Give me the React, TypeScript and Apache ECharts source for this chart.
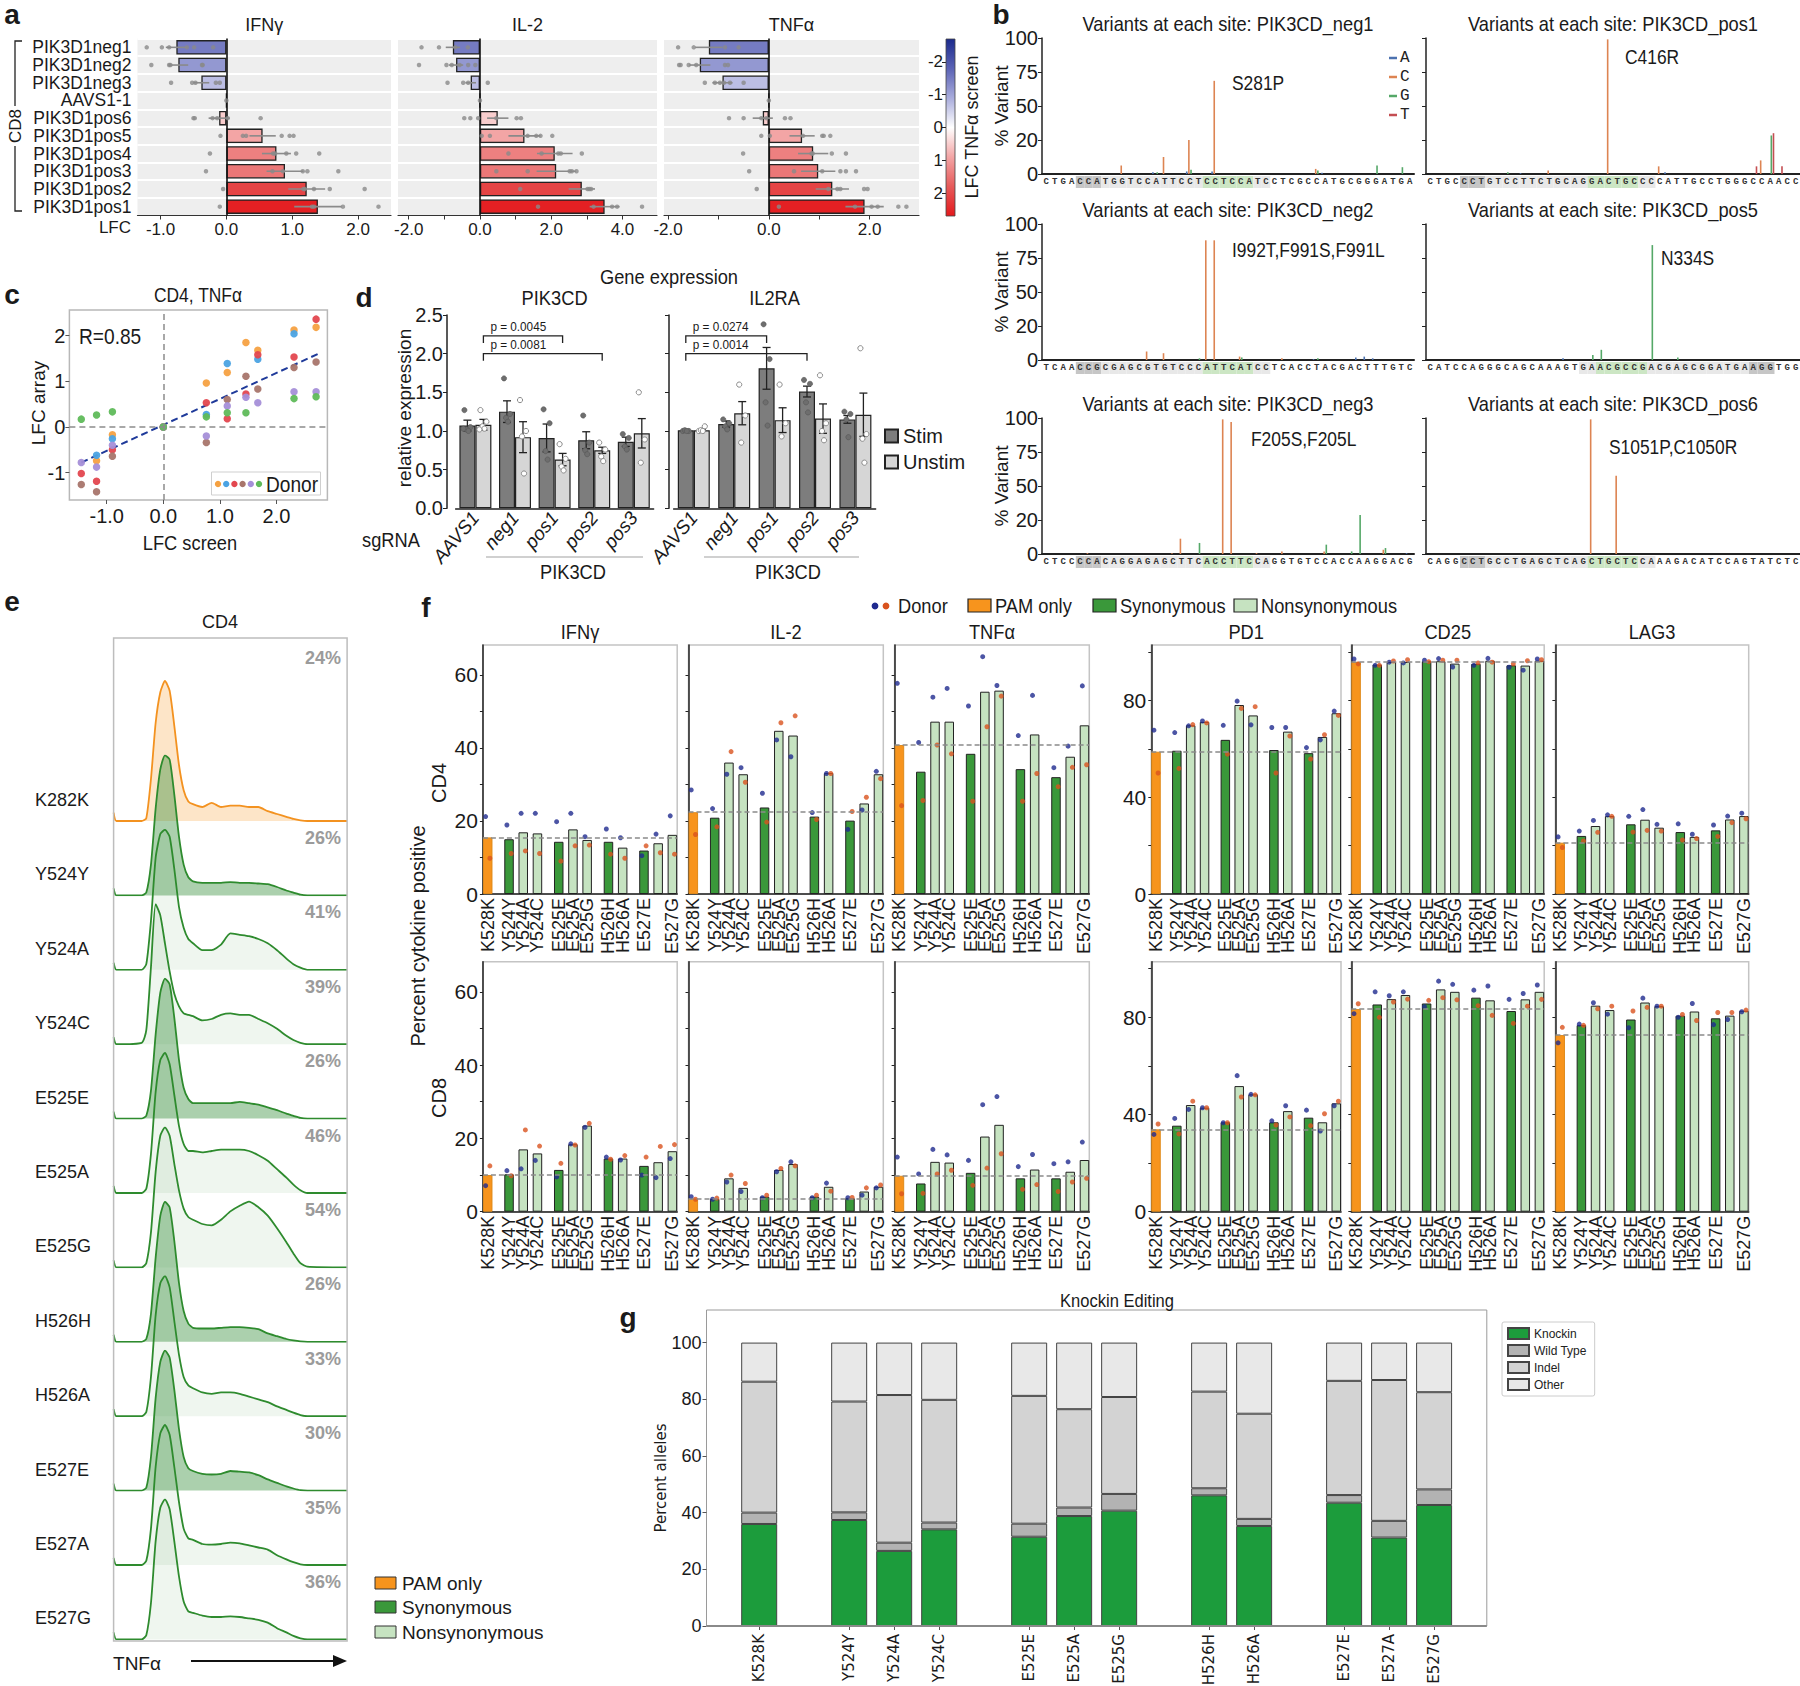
import React, { useEffect, useRef } from "react";
import * as echarts from "echarts";

const SANS = "'Liberation Sans', Arial, Helvetica, sans-serif";
const NARROW = "'Liberation Sans Narrow', 'Liberation Sans', Arial, sans-serif";
const MONO = "'Liberation Mono', 'DejaVu Sans Mono', monospace";
const DEJAVU = "'DejaVu Sans', Verdana, sans-serif";
const INK = "#1a1a1a";

/* ---------------- panel a ---------------- */
const aGuides = ["PIK3D1neg1", "PIK3D1neg2", "PIK3D1neg3", "AAVS1-1", "PIK3D1pos6", "PIK3D1pos5", "PIK3D1pos4", "PIK3D1pos3", "PIK3D1pos2", "PIK3D1pos1"];
const aScreenLFC = [-1.5, -1.15, -0.7, 0, 0.5, 0.9, 1.35, 1.45, 2.1, 2.6];
const aIFNgMean = [-0.76, -0.73, -0.38, 0, -0.11, 0.55, 0.76, 0.89, 1.22, 1.39];
const aIFNgErr = [0.16, 0.15, 0.12, 0, 0.16, 0.2, 0.22, 0.28, 0.28, 0.36];
const aIFNgPts = [
  [-1.21, -0.98, -0.87, -0.6, -0.49, -0.2], [-1.14, -0.87, -0.85, -0.37, -0.36], [-0.84, -0.52, -0.47, -0.16, -0.1], [0],
  [-0.5, -0.48, -0.21, -0.14, 0.02, 0.52], [-0.09, 0.25, 0.3, 0.84, 0.96, 1.02], [-0.25, 0.71, 0.74, 0.91, 1.06, 1.41],
  [-0.31, 0.7, 0.86, 1.16, 1.23, 1.7], [-0.05, 1.17, 1.19, 1.33, 1.57, 2.1], [-0.1, 1.3, 1.33, 1.77, 2.31],
];
const aIL2Mean = [-0.76, -0.67, -0.26, 0, 0.5, 1.25, 2.1, 2.14, 2.86, 3.5];
const aIL2Err = [0.2, 0.2, 0.15, 0, 0.3, 0.45, 0.5, 0.55, 0.37, 0.42];
const aIL2Pts = [
  [-1.64, -1.15, -0.69, -0.34], [-1.71, -0.94, -0.79, -0.57, -0.33, -0.13], [-0.91, -0.47, -0.33, 0.22], [0],
  [-0.44, -0.27, -0.05, 0.46, 1.03, 1.15], [0.05, 0.28, 1.34, 1.58, 1.7, 2.03], [0.8, 1.73, 2.2, 2.27, 2.86],
  [0.46, 1.34, 2.52, 2.58, 2.71], [1.13, 3.02, 3.07, 3.12], [1.63, 3.19, 3.71, 3.85, 4.55],
];
const aTNFaMean = [-1.19, -1.37, -0.92, 0, -0.12, 0.66, 0.88, 0.98, 1.26, 1.9];
const aTNFaErr = [0.27, 0.21, 0.2, 0, 0.2, 0.25, 0.3, 0.34, 0.33, 0.38];
const aTNFaPts = [
  [-1.8, -1.49, -0.87, -0.6], [-1.78, -1.75, -1.59, -1.44, -0.87, -0.81], [-1.27, -1.07, -0.97, -0.89, -0.77, -0.5], [0],
  [-0.79, -0.5, -0.15, -0.05, 0.32, 0.43], [-0.15, 0.02, 0.68, 1.06, 1.09, 1.22], [-0.51, 0.85, 0.87, 1.25, 1.53],
  [-0.39, 0.5, 1.06, 1.42, 1.53, 1.73], [-0.24, 1.18, 1.36, 1.42, 1.89, 1.96], [0.2, 1.71, 2.04, 2.16, 2.57, 2.73],
];
const aIFNgTickLabels = [-1, 0, 1, 2];
const aIL2TickLabels = [-2, 0, 2, 4];
const aTNFaTickLabels = [-2, 0, 2];
const aIFNgTickMarks = [-1, 0, 1, 2];
const aIL2TickMarks = [-2, -1, 0, 1, 2, 3, 4];
const aTNFaTickMarks = [-2, -1, 0, 1, 2];
const aCbStops = [-2.7, -1.8, -0.9, 0, 0.9, 1.8, 2.7];
const aCbColors = ["#1b2a8c", "#5b63b5", "#a9acdc", "#ffffff", "#f3a5a5", "#e65a5a", "#e4191c"];
const aCbTicks = [-2, -1, 0, 1, 2];

/* ---------------- panel b ---------------- */
const bTickLabels = ["0", "20", "50", "75", "100"];
const bTickValues = [0, 20, 50, 75, 100];
const bBases = ["A", "C", "G", "T"];
const bBaseColors = ["#4c72b0", "#dd8452", "#55a868", "#c44e52"];
const bNeg1Seq = "CTGACCATGGTCCATTCCTCCTCCATCCTCGCCATGCGGGATGA";
const bPos1Seq = "CTGCCCTGTCCTTCTGCAGGACTGCCCCATTGCCTGGGCCAACC";
const bNeg2Seq = "TCAACCGCGAGCGTGTCCCATTCATCCTCACCTACGACTTTGTC";
const bPos5Seq = "CATCCAGGGCAGCAAAGTGAACGCCGACGAGCGGATGAAGGTGG";
const bNeg3Seq = "CTCCCCACAGGAGAGCTTCACCTTCCAGGTGTCCACCAAGGACG";
const bPos6Seq = "CAGGCCTGCCTGAGCTCAGCTGCTCCAAAGACATCCAGTATCTC";
const bNeg1Spikes = [[9, "C", 5], [13, "A", 1], [13, "G", 1], [14, "C", 10], [17, "A", 1.5], [17, "C", 20], [17, "G", 2.5], [20, "A", 1.5], [20, "C", 68.5], [32, "C", 3], [32, "G", 2], [33, "A", 0.8], [39, "G", 5], [42, "G", 4]];
const bPos1Spikes = [[9, "G", 1], [11, "A", 0.5], [14, "C", 2], [21, "C", 99], [27, "C", 4.5], [28, "A", 1], [38, "T", 4.5], [39, "C", 8], [40, "T", 26], [40, "G", 24], [41, "T", 4.5]];
const bNeg2Spikes = [[12, "C", 5], [14, "C", 4], [18, "G", 1], [19, "C", 88], [20, "C", 88], [23, "C", 2], [23, "G", 1.5], [28, "C", 1], [32, "A", 0.5], [32, "G", 1], [37, "A", 1.5], [38, "A", 2], [39, "A", 1]];
const bPos5Spikes = [[16, "A", 1], [19, "G", 3], [20, "G", 6], [26, "G", 84.5], [29, "G", 1.5]];
const bNeg3Spikes = [[5, "C", 0.5], [15, "C", 0.5], [16, "C", 9], [18, "G", 6.5], [21, "C", 99], [22, "C", 97], [25, "C", 0.5], [28, "C", 1.5], [33, "C", 1.5], [33, "G", 5.5], [36, "G", 1.5], [37, "G", 24.5], [40, "C", 2.5], [40, "G", 3.5], [43, "A", 0.5]];
const bPos6Spikes = [[19, "C", 99], [22, "C", 57.5]];
const bPanels = [
  { site: "PIK3CD_neg1", seq: bNeg1Seq, pam: [4, 6], guide: [7, 26], seed: [19, 24], note: "S281P", spikes: bNeg1Spikes, nx: 190, ny: 45 },
  { site: "PIK3CD_pos1", seq: bPos1Seq, pam: [4, 6], guide: [7, 26], seed: [19, 24], note: "C416R", spikes: bPos1Spikes, nx: 199, ny: 19 },
  { site: "PIK3CD_neg2", seq: bNeg2Seq, pam: [4, 6], guide: [7, 26], seed: [19, 24], note: "I992T,F991S,F991L", spikes: bNeg2Spikes, nx: 190, ny: 26 },
  { site: "PIK3CD_pos5", seq: bPos5Seq, pam: [38, 40], guide: [18, 37], seed: [20, 25], note: "N334S", spikes: bPos5Spikes, nx: 235, ny: 34 },
  { site: "PIK3CD_neg3", seq: bNeg3Seq, pam: [4, 6], guide: [7, 26], seed: [19, 24], note: "F205S,F205L", spikes: bNeg3Spikes, nx: 209, ny: 21 },
  { site: "PIK3CD_pos6", seq: bPos6Seq, pam: [4, 6], guide: [7, 26], seed: [19, 24], note: "S1051P,C1050R", spikes: bPos6Spikes, nx: 183, ny: 29 },
];

/* ---------------- panel c ---------------- */
const cXTicks = [-1, 0, 1, 2];
const cYTicks = [-1, 0, 1, 2];
const cOrange = [[-1.18, -0.74], [-0.9, -0.17], [0, 0], [0.76, 0.96], [1.13, 1.19], [1.46, 1.85], [1.67, 1.68], [2.31, 2.12], [2.7, 2.18]];
const cBlue = [[-1.18, -0.62], [-0.9, -0.26], [0, 0], [0.76, 0.27], [1.13, 1.39], [1.67, 1.48], [2.31, 2.04]];
const cRed = [[-1.45, -1.02], [-1.18, -1.19], [-0.9, -0.5], [0, 0], [0.76, 0.53], [1.13, 0.18], [1.46, 0.72], [1.67, 1.58], [2.31, 1.53], [2.7, 2.36]];
const cBrown = [[-1.45, -1.26], [-1.18, -1.42], [-0.9, -0.64], [0, 0], [0.76, -0.34], [1.13, 0.6], [1.46, 1.11], [1.67, 0.83], [2.31, 1.3], [2.7, 1.42]];
const cPurple = [[-1.45, -0.78], [-1.18, -0.88], [-0.9, -0.4], [0, 0], [0.76, -0.2], [1.13, 0.46], [1.46, 0.65], [1.67, 0.53], [2.31, 0.77], [2.7, 0.77]];
const cGreen = [[-1.45, 0.17], [-1.18, 0.26], [-0.9, 0.33], [0, 0], [0.76, 0.22], [1.13, 0.31], [1.46, 0.31], [2.31, 0.62], [2.7, 0.66]];
const cDonorColors = ["#f5a142", "#4ba3e3", "#e3474f", "#a8756b", "#a58fd8", "#5fba5a"];

/* ---------------- panel d ---------------- */
const dGuides = ["AAVS1", "neg1", "pos1", "pos2", "pos3"];
const dPIK3CDStim = [1.07, 1.25, 0.91, 0.88, 0.86];
const dPIK3CDStimErr = [0.07, 0.14, 0.18, 0.11, 0.06];
const dPIK3CDUnstim = [1.08, 0.92, 0.63, 0.75, 0.97];
const dPIK3CDUnstimErr = [0.07, 0.2, 0.08, 0.04, 0.19];
const dIL2RAStim = [1.01, 1.09, 1.81, 1.51, 1.15];
const dIL2RAStimErr = [0.01, 0.04, 0.27, 0.07, 0.05];
const dIL2RAUnstim = [1.01, 1.23, 1.14, 1.16, 1.21];
const dIL2RAUnstimErr = [0.01, 0.15, 0.16, 0.19, 0.28];
const dPIK3CDStimPts = [[1.27, 1.05, 1.02, 1.0, 1.03], [1.68, 1.22, 1.17, 1.12], [1.28, 1.1, 0.74, 0.63], [1.2, 0.85, 0.75, 0.7], [0.96, 0.91, 0.8, 0.76]];
const dPIK3CDUnstimPts = [[1.27, 1.12, 1.06, 1.03, 1.02], [1.4, 1.0, 0.93, 0.45], [0.83, 0.64, 0.54, 0.49], [0.85, 0.76, 0.67, 0.61], [1.5, 0.89, 0.59]];
const dIL2RAStimPts = [[1.0, 1.0, 1.01, 1.0], [1.15, 1.1, 1.06, 1.02], [2.38, 1.93, 1.37, 1.07], [1.66, 1.61, 1.37, 1.24], [1.25, 1.22, 1.15, 0.92]];
const dIL2RAUnstimPts = [[1.0, 1.06, 1.01, 1.0], [1.6, 1.2, 0.85], [1.6, 1.1, 0.93], [1.72, 1.1, 1.0, 0.88], [2.07, 0.96, 0.9, 0.59]];
const dPIK3CDBrackets = [[0, 2, 2.23, "p = 0.0045"], [0, 3, 2.0, "p = 0.0081"]];
const dIL2RABrackets = [[0, 2, 2.23, "p = 0.0274"], [0, 3, 2.0, "p = 0.0014"]];

/* ---------------- panel e ---------------- */
const eRows = ["K282K", "Y524Y", "Y524A", "Y524C", "E525E", "E525A", "E525G", "H526H", "H526A", "E527E", "E527A", "E527G"];
const eClass = ["pam", "syn", "non", "non", "syn", "non", "non", "syn", "non", "syn", "non", "non"];
const ePct = ["24%", "26%", "41%", "39%", "26%", "46%", "54%", "26%", "33%", "30%", "35%", "36%"];
const eU = [0, 0.012, 0.12, 0.14, 0.16, 0.18, 0.2, 0.22, 0.24, 0.26, 0.28, 0.3, 0.32, 0.34, 0.38, 0.42, 0.46, 0.5, 0.54, 0.58, 0.62, 0.66, 0.7, 0.74, 0.77, 0.8, 0.83, 1.0];
const eK282K = [6, 0, 0, 2, 30, 70, 92, 100, 93, 68, 40, 22, 14, 12, 10, 13, 10, 11, 11, 10, 10, 7, 5, 3, 1.5, 0.5, 0, 0];
const eY524Y = [5, 0, 0, 2, 22, 62, 90, 100, 97, 72, 42, 22, 13, 10, 9, 9, 9, 9.5, 9, 9, 8.5, 8, 6, 3.5, 2, 0.5, 0, 0];
const eY524A = [5, 0, 0, 4, 35, 80, 97, 100, 95, 72, 45, 30, 22, 19, 14, 14, 18, 26, 25, 24, 22, 19, 14, 8, 4, 1.5, 0, 0];
const eY524C = [5, 0, 1, 10, 55, 100, 92, 72, 52, 36, 27, 22, 21, 20, 17, 18, 21, 22, 21, 21, 18, 15, 11, 6, 3, 1, 0, 0];
const eE525E = [5, 0, 0, 2, 20, 60, 90, 100, 96, 72, 42, 22, 14, 11, 11, 11, 11, 11, 12, 11, 10, 8, 6, 3.5, 2, 0.5, 0, 0];
const eE525A = [5, 0, 0, 3, 28, 72, 95, 100, 92, 70, 48, 35, 30, 30, 29, 30, 31, 31, 31, 30, 27, 23, 17, 11, 6, 2, 0, 0];
const eE525G = [5, 0, 0, 3, 25, 68, 94, 100, 94, 74, 55, 42, 36, 34, 31, 30, 34, 40, 44, 47, 43, 37, 28, 18, 10, 3, 0.5, 0];
const eH526H = [5, 0, 0, 2, 20, 60, 90, 100, 96, 72, 42, 22, 13, 10, 9.5, 9.5, 10, 10.5, 10.5, 10, 9, 6, 4, 2, 1, 0.3, 0, 0];
const eH526A = [5, 0, 0, 3, 28, 72, 95, 100, 92, 68, 44, 28, 22, 20, 17, 16, 17, 17, 16, 14, 12, 10, 7, 4.5, 2.5, 0.8, 0, 0];
const eE527E = [5, 0, 0, 2, 24, 66, 92, 100, 95, 72, 44, 24, 16, 14, 12, 11.5, 12, 14, 13.5, 13, 11, 8, 5.5, 3, 1.5, 0.3, 0, 0];
const eE527A = [5, 0, 0, 3, 26, 70, 94, 100, 93, 70, 45, 26, 19, 18, 15, 14.5, 15, 16, 15.5, 14, 12.5, 11, 7, 4, 2, 0.5, 0, 0];
const eE527G = [5, 0, 0, 3, 26, 70, 94, 100, 93, 70, 45, 27, 20, 19, 17, 16, 16, 16.5, 16, 15, 14, 12, 8, 5, 2.5, 0.8, 0, 0];
const eCurves = [eK282K, eY524Y, eY524A, eY524C, eE525E, eE525A, eE525G, eH526H, eH526A, eE527E, eE527A, eE527G];

/* ---------------- panel f ---------------- */
const fMut = ["K528K", "Y524Y", "Y524A", "Y524C", "E525E", "E525A", "E525G", "H526H", "H526A", "E527E", "E527A", "E527G"];
const fPos = [0, 1.5, 2.5, 3.5, 5, 6, 7, 8.5, 9.5, 11, 12, 13];
const fClass = ["pam", "syn", "non", "non", "syn", "non", "non", "syn", "non", "syn", "non", "non"];
const fMarkers = ["IFNγ", "IL-2", "TNFα", "PD1", "CD25", "LAG3"];
const fCytoTicks = [0, 10, 20, 30, 40, 50, 60];
const fCytoLabels = [0, 20, 40, 60];
const fActTicks = [0, 20, 40, 60, 80, 100];
const fActLabels = [0, 40, 80];
const fCD4IFNg = { bar: [15.5, 15.0, 16.9, 16.6, 14.3, 17.7, 14.8, 14.3, 12.7, 11.9, 13.9, 16.2], d1: [21.2, 18.9, 22.1, 22.1, 19.8, 22.1, 15.7, 17.8, 15.4, 10.5, 16.4, 21.4], d2: [9.8, 11.1, 11.8, 11.1, 9.0, 13.2, 13.4, 10.9, 9.8, 13.2, 11.3, 10.9] };
const fCD4IL2 = { bar: [22.4, 20.9, 36.0, 32.8, 23.7, 44.7, 43.4, 21.2, 33.1, 20.1, 24.8, 32.8], d1: [28.5, 23.4, 32.8, 34.6, 27.6, 42.2, 37.6, 22.3, 33.0, 17.7, 23.0, 33.6], d2: [16.3, 18.4, 39.0, 30.6, 19.7, 46.9, 48.8, 20.4, 33.0, 22.6, 26.5, 31.6] };
const fCD4TNFa = { bar: [40.8, 33.5, 47.2, 47.2, 38.4, 55.4, 55.7, 34.2, 43.7, 32.0, 37.6, 46.2], d1: [57.7, 41.5, 53.9, 56.3, 51.5, 65.0, 57.1, 43.4, 54.4, 34.6, 40.5, 57.0], d2: [24.2, 25.6, 40.8, 38.4, 25.4, 45.8, 54.2, 25.4, 33.0, 29.4, 34.7, 35.4] };
const fCD4PD1 = { bar: [58.8, 59.2, 69.7, 71.1, 63.7, 78.1, 73.8, 59.5, 67.1, 58.2, 64.9, 74.7], d1: [67.7, 66.7, 69.5, 71.5, 69.7, 79.7, 69.9, 68.8, 68.8, 60.5, 63.7, 75.6], d2: [50.0, 51.9, 70.0, 70.7, 57.8, 76.7, 77.4, 50.0, 65.3, 55.8, 65.8, 73.8] };
const fCD4CD25 = { bar: [95.9, 94.8, 95.9, 95.9, 96.2, 96.2, 95.2, 95.1, 96.4, 94.5, 94.4, 96.4], d1: [97.1, 94.5, 95.8, 95.5, 96.6, 97.3, 93.8, 94.5, 97.4, 93.7, 92.5, 97.1], d2: [95.1, 94.5, 96.3, 96.8, 96.0, 96.6, 96.6, 95.5, 95.8, 95.1, 96.4, 96.8] };
const fCD4LAG3 = { bar: [21.2, 24.0, 28.1, 32.2, 28.8, 30.7, 27.4, 25.6, 23.6, 26.3, 30.8, 32.2], d1: [23.6, 26.0, 30.4, 32.7, 32.1, 34.9, 28.8, 29.0, 24.7, 28.5, 32.2, 33.4], d2: [19.2, 21.9, 25.5, 32.1, 25.6, 26.3, 26.0, 22.3, 22.9, 23.8, 29.5, 31.1] };
const fCD8IFNg = { bar: [10.0, 10.2, 17.0, 15.9, 11.4, 18.4, 23.5, 14.5, 14.5, 12.5, 13.5, 16.5], d1: [7.1, 11.2, 11.7, 14.0, 9.5, 18.5, 23.0, 14.9, 14.1, 10.0, 9.3, 14.5], d2: [12.5, 9.8, 22.3, 17.9, 13.2, 18.2, 24.1, 14.3, 15.3, 14.9, 17.8, 18.3] };
const fCD8IL2 = { bar: [3.6, 3.5, 9.1, 6.5, 4.1, 11.4, 13.0, 4.1, 6.8, 3.7, 5.5, 6.8], d1: [4.1, 3.4, 8.1, 5.5, 3.8, 10.9, 13.6, 3.8, 7.8, 3.8, 4.5, 6.5], d2: [3.4, 3.7, 10.0, 7.7, 4.5, 11.8, 12.5, 4.5, 5.6, 3.9, 6.5, 7.3] };
const fCD8TNFa = { bar: [9.8, 7.7, 13.6, 13.4, 10.6, 20.5, 23.7, 9.1, 11.5, 9.1, 10.9, 14.1], d1: [14.9, 10.3, 17.0, 15.5, 14.0, 29.2, 31.4, 12.3, 15.6, 13.1, 13.6, 19.0], d2: [4.9, 5.0, 10.3, 11.3, 7.2, 11.9, 15.8, 6.1, 7.4, 5.5, 8.1, 9.1] };
const fCD8PD1 = { bar: [33.9, 35.4, 43.9, 42.8, 36.8, 51.7, 48.3, 36.8, 41.4, 38.7, 36.8, 44.6], d1: [31.8, 38.4, 42.1, 42.8, 36.6, 56.0, 48.3, 37.4, 43.6, 41.8, 33.2, 43.6], d2: [36.1, 32.0, 45.5, 42.8, 36.6, 47.2, 48.1, 35.7, 39.0, 35.4, 40.3, 45.5] };
const fCD8CD25 = { bar: [83.4, 85.3, 87.5, 89.2, 85.7, 91.5, 90.5, 88.1, 87.0, 82.6, 87.4, 90.5], d1: [81.5, 90.5, 88.9, 90.5, 84.4, 94.9, 93.6, 91.2, 92.9, 87.4, 89.8, 93.3], d2: [85.6, 80.0, 86.3, 87.5, 87.0, 88.1, 87.2, 84.8, 80.8, 77.5, 84.6, 87.4] };
const fCD8LAG3 = { bar: [72.7, 76.8, 84.8, 83.0, 79.1, 86.1, 84.6, 80.7, 82.4, 79.6, 80.7, 82.7], d1: [69.5, 77.2, 86.0, 81.3, 75.7, 87.9, 84.6, 80.0, 85.7, 77.0, 79.1, 82.3], d2: [75.9, 76.7, 83.5, 84.6, 82.6, 84.1, 84.6, 81.2, 78.7, 82.0, 82.0, 83.0] };
const fCD4Sets = [fCD4IFNg, fCD4IL2, fCD4TNFa, fCD4PD1, fCD4CD25, fCD4LAG3];
const fCD8Sets = [fCD8IFNg, fCD8IL2, fCD8TNFa, fCD8PD1, fCD8CD25, fCD8LAG3];

/* ---------------- panel g ---------------- */
const gMut = ["K528K", "Y524Y", "Y524A", "Y524C", "E525E", "E525A", "E525G", "H526H", "H526A", "E527E", "E527A", "E527G"];
const gSlot = [0, 2, 3, 4, 6, 7, 8, 10, 11, 13, 14, 15];
const gSlotCount = 16;
const gKnockin = [36.0, 37.4, 26.5, 34.1, 31.5, 38.8, 40.7, 46.1, 35.3, 43.5, 31.2, 42.7];
const gWildType = [4.0, 2.7, 2.9, 2.4, 4.6, 3.0, 5.9, 2.5, 2.5, 2.7, 5.9, 5.5];
const gIndel = [46.2, 39.1, 52.1, 43.3, 45.1, 34.7, 34.2, 34.1, 37.1, 40.3, 49.7, 34.3];
const gOther = [13.8, 20.8, 18.5, 20.2, 18.8, 23.5, 19.2, 17.3, 25.1, 13.5, 13.2, 17.5];
const gYTicks = [0, 20, 40, 60, 80, 100];

const CLASS_FILL: any = { pam: "#f7941d", syn: "#3a983a", non: "#c6e3c1" };

function hexRgb(h: string) {
  return [parseInt(h.slice(1, 3), 16), parseInt(h.slice(3, 5), 16), parseInt(h.slice(5, 7), 16)];
}
function screenColor(v: number) {
  const s = aCbStops, c = aCbColors;
  if (v <= s[0]) return c[0];
  for (let i = 0; i < s.length - 1; i++) {
    if (v <= s[i + 1]) {
      const t = (v - s[i]) / (s[i + 1] - s[i]);
      const a = hexRgb(c[i]), b = hexRgb(c[i + 1]);
      return `rgb(${a.map((x, k) => Math.round(x + (b[k] - x) * t)).join(",")})`;
    }
  }
  return c[c.length - 1];
}
function variantPos(p: number) {
  const v = bTickValues;
  for (let i = 0; i < v.length - 1; i++) {
    if (p <= v[i + 1]) return i + (p - v[i]) / (v[i + 1] - v[i]);
  }
  return v.length - 1;
}

function buildOption() {
  const grid: any[] = [], xAxis: any[] = [], yAxis: any[] = [], series: any[] = [], G: any[] = [];
  const add = (g: any, x: any, y: any) => {
    grid.push({ outerBoundsMode: "none", containLabel: false, show: false, ...g });
    const i = grid.length - 1;
    xAxis.push({ gridIndex: i, ...x });
    yAxis.push({ gridIndex: i, ...y });
    return i;
  };
  const T = (x: number, y: number, text: string, o: any = {}) =>
    G.push({
      type: "text", x, y, rotation: o.rot || 0, silent: true, z: 100,
      scaleX: o.sx != null ? o.sx : o.font === NARROW ? 0.87 : 1,
      style: { text, fill: o.color || INK, fontSize: o.size || 16, fontFamily: o.font || SANS, fontWeight: o.weight || "normal", fontStyle: o.style || "normal", align: o.align || "center", verticalAlign: o.valign || "middle" },
    });
  const L = (x1: number, y1: number, x2: number, y2: number, stroke = INK, w = 1.2) =>
    G.push({ type: "line", silent: true, z: 100, shape: { x1, y1, x2, y2 }, style: { stroke, lineWidth: w } });
  const R = (x: number, y: number, w: number, h: number, fill: any, stroke = "none", lw = 1, z = 100) =>
    G.push({ type: "rect", silent: true, z, shape: { x, y, width: w, height: h }, style: { fill, stroke, lineWidth: lw } });
  const Cc = (cx: number, cy: number, r: number, fill: string) =>
    G.push({ type: "circle", silent: true, z: 100, shape: { cx, cy, r }, style: { fill } });
  const hidden = (min: number, max: number) => ({ type: "value", show: false, min, max, axisLine: { onZero: false } });

  /* panel letters */
  const letters: any[] = [["a", 12, 14], ["b", 1001, 14], ["c", 12, 294], ["d", 364, 297], ["e", 12, 601], ["f", 426, 607], ["g", 628, 1317]];
  letters.forEach(([t, x, y]) => T(x, y, t, { size: 28, weight: "bold", font: SANS }));

  /* ================= panel a ================= */
  const aSets = [
    { title: "IFNγ", left: 137.5, width: 253.5, min: -1.35, max: 2.5, mean: aIFNgMean, err: aIFNgErr, pts: aIFNgPts, labels: aIFNgTickLabels, ticks: aIFNgTickMarks },
    { title: "IL-2", left: 398, width: 259, min: -2.3, max: 4.97, mean: aIL2Mean, err: aIL2Err, pts: aIL2Pts, labels: aIL2TickLabels, ticks: aIL2TickMarks },
    { title: "TNFα", left: 664, width: 255, min: -2.08, max: 2.98, mean: aTNFaMean, err: aTNFaErr, pts: aTNFaPts, labels: aTNFaTickLabels, ticks: aTNFaTickMarks },
  ];
  aSets.forEach((s, k) => {
    const gi = add(
      { left: s.left, top: 38.5, width: s.width, height: 177, show: true, backgroundColor: "#eeeeee", borderWidth: 0 },
      {
        type: "value", min: s.min, max: s.max, splitLine: { show: false },
        axisLine: { show: true, onZero: false, lineStyle: { color: "#333", width: 1.2 } },
        axisTick: { show: true, customValues: s.ticks, length: 4, lineStyle: { color: "#333" } },
        axisLabel: { customValues: s.labels, formatter: (v: number) => v.toFixed(1), fontSize: 17, color: INK, fontFamily: SANS, margin: 5 },
      },
      {
        type: "category", data: aGuides, inverse: true, axisLine: { show: false, onZero: false }, axisTick: { show: false },
        axisLabel: { show: k === 0, interval: 0, fontSize: 17.5, color: INK, fontFamily: SANS, margin: 6 },
        splitLine: { show: true, interval: 0, lineStyle: { color: "#ffffff", width: 2 } },
      }
    );
    series.push({
      type: "bar", xAxisIndex: gi, yAxisIndex: gi, barWidth: 14.5, z: 3, silent: true,
      data: s.mean.map((v, i) => ({ value: v, itemStyle: { color: screenColor(aScreenLFC[i]) } })),
      itemStyle: { borderColor: "#222", borderWidth: 1.3 },
      markLine: { silent: true, symbol: "none", label: { show: false }, lineStyle: { color: "#111", width: 1.6, type: "solid" }, data: [{ xAxis: 0 }] },
    });
    series.push({
      type: "custom", xAxisIndex: gi, yAxisIndex: gi, z: 5, silent: true,
      data: s.mean.map((m, i) => [m - s.err[i], m + s.err[i], i]).filter((d) => d[1] - d[0] > 0),
      encode: { x: [0, 1], y: 2 },
      renderItem: (_p: any, api: any) => {
        const a = api.coord([api.value(0), api.value(2)]);
        const b = api.coord([api.value(1), api.value(2)]);
        return { type: "line", shape: { x1: a[0], y1: a[1], x2: b[0], y2: b[1] }, style: { stroke: "#8a8a8a", lineWidth: 1.6 } };
      },
    });
    series.push({
      type: "scatter", xAxisIndex: gi, yAxisIndex: gi, z: 6, symbolSize: 4.5, silent: true, itemStyle: { color: "#8a8a8a" },
      data: s.pts.flatMap((row, i) => row.map((v) => [v, i])),
    });
    T(s.left + s.width / 2, 25, s.title, { size: 18 });
  });
  T(131, 227, "LFC", { size: 17, align: "right" });
  G.push({ type: "polyline", silent: true, z: 100, shape: { points: [[22, 41], [15, 41], [15, 106]] }, style: { stroke: "#222", lineWidth: 1.3, fill: "none" } });
  G.push({ type: "polyline", silent: true, z: 100, shape: { points: [[15, 146], [15, 211], [22, 211]] }, style: { stroke: "#222", lineWidth: 1.3, fill: "none" } });
  T(15, 126, "CD8", { size: 17, rot: Math.PI / 2 });
  add(
    { left: 946, top: 39, width: 9, height: 177 },
    hidden(0, 1),
    {
      type: "value", min: -2.7, max: 2.7, inverse: true, position: "left", splitLine: { show: false }, axisLine: { show: false, onZero: false },
      axisTick: { show: true, customValues: aCbTicks, length: 4, lineStyle: { color: "#222" } },
      axisLabel: { customValues: aCbTicks, fontSize: 17, color: INK, fontFamily: SANS, margin: 3 },
    }
  );
  R(946, 39, 9, 177, {
    type: "linear", x: 0, y: 0, x2: 0, y2: 1,
    colorStops: aCbStops.map((v, i) => ({ offset: (v - aCbStops[0]) / (aCbStops[aCbStops.length - 1] - aCbStops[0]), color: aCbColors[i] })),
  }, "#444", 0.8);
  T(972, 127, "LFC TNFα screen", { size: 18, rot: Math.PI / 2 });

  /* ================= panel b ================= */
  const bLefts = [1042, 1426];
  const bWidths = [372, 374];
  const bTops = [38, 224, 418];
  const B_H = 136;
  bPanels.forEach((p, k) => {
    const col = k % 2, row = Math.floor(k / 2);
    const left = bLefts[col], width = bWidths[col], top = bTops[row];
    const letterArr = p.seq.split("");
    const cw = width / letterArr.length;
    const cls = (i: number) =>
      i >= p.pam[0] && i <= p.pam[1] ? "pam" : i >= p.seed[0] && i <= p.seed[1] ? "seed" : i >= p.guide[0] && i <= p.guide[1] ? "guide" : "plain";
    const base = { width: cw, height: 12, lineHeight: 12, align: "center", verticalAlign: "middle", fontSize: 9, fontFamily: MONO, fontWeight: "bold", color: "#333", padding: 0 };
    const gi = add(
      { left, top, width, height: B_H },
      {
        type: "category", data: letterArr.map((_c, i) => String(i)),
        axisLine: { show: true, onZero: false, lineStyle: { color: "#222", width: 2 } }, axisTick: { show: false },
        axisLabel: {
          interval: 0, margin: 2,
          formatter: (_v: string, i: number) => `{${cls(i)}|${letterArr[i]}}`,
          rich: { pam: { ...base, backgroundColor: "#c6c6c6" }, seed: { ...base, backgroundColor: "#cce6c4" }, guide: { ...base, backgroundColor: "#e8e8e8" }, plain: { ...base } },
        },
      },
      {
        type: "value", min: 0, max: 4, interval: 1, splitLine: { show: false },
        axisLine: { show: true, onZero: false, lineStyle: { color: "#222", width: 1.5 } },
        axisTick: { show: true, length: 4, lineStyle: { color: "#222" } },
        axisLabel: { show: col === 0, formatter: (v: number) => bTickLabels[v], fontSize: 20, fontFamily: NARROW, color: INK, margin: 4 },
      }
    );
    bBases.forEach((b, bi) => {
      const data: any[] = letterArr.map(() => "-");
      p.spikes.forEach((s: any) => {
        if (s[1] === b) data[s[0]] = variantPos(s[2]);
      });
      series.push({ type: "bar", name: b, xAxisIndex: gi, yAxisIndex: gi, barWidth: 1.6, barGap: "35%", silent: true, itemStyle: { color: bBaseColors[bi] }, data });
    });
    T(left + width / 2, top - 14, `Variants at each site: ${p.site}`, { size: 21, font: NARROW });
    T(left + p.nx, top + p.ny, p.note, { size: 20, font: NARROW, align: "left" });
    if (col === 0) T(1001, top + B_H / 2, "% Variant", { size: 19, rot: Math.PI / 2 });
  });

  /* ================= panel c ================= */
  const ci = add(
    { left: 69.4, top: 310, width: 258, height: 190, show: true, borderColor: "#b8b8b8", borderWidth: 1.5 },
    {
      type: "value", min: -1.66, max: 2.9, splitLine: { show: false }, axisLine: { show: false, onZero: false },
      axisTick: { show: true, customValues: cXTicks, length: 4, lineStyle: { color: "#555" } },
      axisLabel: { customValues: cXTicks, formatter: (v: number) => v.toFixed(1), fontSize: 20, fontFamily: NARROW, color: INK, margin: 6 },
    },
    {
      type: "value", min: -1.6, max: 2.56, splitLine: { show: false }, axisLine: { show: false, onZero: false },
      axisTick: { show: true, customValues: cYTicks, length: 4, lineStyle: { color: "#555" } },
      axisLabel: { customValues: cYTicks, formatter: (v: number) => String(v), fontSize: 20, fontFamily: NARROW, color: INK, margin: 4 },
    }
  );
  const cDonors = [cOrange, cBlue, cRed, cBrown, cPurple, cGreen];
  const cAll = cDonors.flat();
  const mx = cAll.reduce((s, p) => s + p[0], 0) / cAll.length;
  const my = cAll.reduce((s, p) => s + p[1], 0) / cAll.length;
  const slope = cAll.reduce((s, p) => s + (p[0] - mx) * (p[1] - my), 0) / cAll.reduce((s, p) => s + (p[0] - mx) ** 2, 0);
  const icpt = my - slope * mx;
  const xs = cAll.map((p) => p[0]);
  const x0 = Math.min(...xs), x1 = Math.max(...xs) + 0.05;
  series.push({
    type: "line", xAxisIndex: ci, yAxisIndex: ci, symbol: "none", silent: true, z: 1,
    data: [[x0, icpt + slope * x0], [x1, icpt + slope * x1]],
    lineStyle: { color: "#1f3a9a", width: 2, type: [7, 4] },
    markLine: { silent: true, symbol: "none", label: { show: false }, lineStyle: { color: "#8c8c8c", width: 1.5, type: [6, 4] }, data: [{ xAxis: 0 }, { yAxis: 0 }] },
  });
  cDonors.forEach((pts, i) =>
    series.push({ type: "scatter", xAxisIndex: ci, yAxisIndex: ci, symbolSize: 7.5, silent: true, z: 3, itemStyle: { color: cDonorColors[i], opacity: 0.95 }, data: pts })
  );
  T(198, 295, "CD4, TNFα", { size: 20, font: NARROW });
  T(79, 336, "R=0.85", { size: 22, font: NARROW, align: "left" });
  T(38, 403, "LFC array", { size: 19, rot: Math.PI / 2 });
  T(190, 543, "LFC screen", { size: 21, font: NARROW });
  R(211.5, 472, 109, 23, "#ffffff", "#cfcfcf", 1);
  cDonorColors.forEach((c, i) => Cc(218 + i * 8.2, 484, 3.2, c));
  T(266, 484, "Donor", { size: 22, font: NARROW, align: "left" });

  /* ================= panel d ================= */
  const dSets = [
    { left: 455.6, width: 198, off: 8.6, stim: dPIK3CDStim, stimErr: dPIK3CDStimErr, un: dPIK3CDUnstim, unErr: dPIK3CDUnstimErr, sp: dPIK3CDStimPts, up: dPIK3CDUnstimPts, br: dPIK3CDBrackets, side: 8, title: "PIK3CD" },
    { left: 673.6, width: 202, off: 4.6, stim: dIL2RAStim, stimErr: dIL2RAStimErr, un: dIL2RAUnstim, unErr: dIL2RAUnstimErr, sp: dIL2RAStimPts, up: dIL2RAUnstimPts, br: dIL2RABrackets, side: -8, title: "IL2RA" },
  ];
  const JIT = [-3, 3, -1, 1, -4];
  dSets.forEach((s, k) => {
    const gi = add(
      { left: s.left, top: 315, width: s.width, height: 193.3 },
      {
        type: "category", data: dGuides, axisLine: { show: true, onZero: false, lineStyle: { color: "#222", width: 1.5 } }, axisTick: { show: false },
        axisLabel: { interval: 0, rotate: 50, fontStyle: "italic", fontSize: 19, fontFamily: SANS, color: INK, margin: 6 },
      },
      {
        type: "value", min: 0, max: 2.5, interval: 0.5, offset: s.off, splitLine: { show: false },
        axisLine: { show: true, onZero: false, lineStyle: { color: "#222", width: 1.5 } },
        axisTick: { show: true, length: 4, lineStyle: { color: "#222" } },
        axisLabel: { show: k === 0, formatter: (v: number) => v.toFixed(1), fontSize: 20, fontFamily: NARROW, color: INK, margin: 4 },
      }
    );
    series.push({ type: "bar", name: "Stim", xAxisIndex: gi, yAxisIndex: gi, barWidth: 16, barGap: "0%", silent: true, itemStyle: { color: "#7d7d7d", borderColor: "#222", borderWidth: 1.2 }, data: s.stim });
    series.push({ type: "bar", name: "Unstim", xAxisIndex: gi, yAxisIndex: gi, barWidth: 16, barGap: "0%", silent: true, itemStyle: { color: "#d6d6d6", borderColor: "#222", borderWidth: 1.2 }, data: s.un });
    const errSeries = (mean: number[], err: number[], dx: number) => ({
      type: "custom", xAxisIndex: gi, yAxisIndex: gi, z: 5, silent: true,
      data: mean.map((m, i) => [i, m, err[i]]), encode: { x: 0, y: 1 },
      renderItem: (_p: any, api: any) => {
        const i = api.value(0), m = api.value(1), e = api.value(2);
        const t = api.coord([i, m + e]), b = api.coord([i, m - e]);
        const x = t[0] + dx;
        return {
          type: "group", children: [
            { type: "line", shape: { x1: x, y1: t[1], x2: x, y2: b[1] }, style: { stroke: "#222", lineWidth: 1.3 } },
            { type: "line", shape: { x1: x - 4, y1: t[1], x2: x + 4, y2: t[1] }, style: { stroke: "#222", lineWidth: 1.3 } },
            { type: "line", shape: { x1: x - 4, y1: b[1], x2: x + 4, y2: b[1] }, style: { stroke: "#222", lineWidth: 1.3 } },
          ],
        };
      },
    });
    series.push(errSeries(s.stim, s.stimErr, -8));
    series.push(errSeries(s.un, s.unErr, 8));
    const ptSeries = (pts: number[][], dx: number, filled: boolean) => ({
      type: "custom", xAxisIndex: gi, yAxisIndex: gi, z: 6, silent: true,
      data: pts.flatMap((row, i) => row.map((v, j) => [i, v, j])), encode: { x: 0, y: 1 },
      renderItem: (_p: any, api: any) => {
        const c = api.coord([api.value(0), api.value(1)]);
        return { type: "circle", shape: { cx: c[0] + dx + JIT[api.value(2) % JIT.length], cy: c[1], r: 2.6 }, style: filled ? { fill: "#6e6e6e", stroke: "#555", lineWidth: 0.6 } : { fill: "#ffffff", stroke: "#8a8a8a", lineWidth: 1 } };
      },
    });
    series.push(ptSeries(s.sp, -8, true));
    series.push(ptSeries(s.up, 8, false));
    series.push({
      type: "custom", xAxisIndex: gi, yAxisIndex: gi, z: 7, silent: true,
      data: s.br.map((b: any, i: number) => [b[0], b[1], b[2], i]), encode: { x: 0, y: 2 },
      renderItem: (_p: any, api: any) => {
        const a = api.coord([api.value(0), api.value(2)]);
        const b = api.coord([api.value(1), api.value(2)]);
        const xa = a[0] + s.side, xb = b[0] + s.side;
        return {
          type: "group", children: [
            { type: "polyline", shape: { points: [[xa, a[1] + 7], [xa, a[1]], [xb, b[1]], [xb, b[1] + 7]] }, style: { stroke: "#222", lineWidth: 1.3, fill: "none" } },
            { type: "text", x: xa + 7, y: a[1] - 2, scaleX: 0.87, style: { text: s.br[api.value(3)][3], fontSize: 13.5, fontFamily: NARROW, fill: INK, align: "left", verticalAlign: "bottom" } },
          ],
        };
      },
    });
    T(s.left + s.width / 2, 298, s.title, { size: 21, font: NARROW });
  });
  T(669, 277, "Gene expression", { size: 21, font: NARROW });
  T(404, 408, "relative expression", { size: 19, rot: Math.PI / 2 });
  T(391, 540, "sgRNA", { size: 21, font: NARROW });
  L(486, 557, 643, 557, "#d0d0d0", 2);
  L(704, 557, 859, 557, "#d0d0d0", 2);
  T(573, 572, "PIK3CD", { size: 21, font: NARROW });
  T(788, 572, "PIK3CD", { size: 21, font: NARROW });

  /* ================= panel e ================= */
  const E_LEFT = 113.6, E_W = 233.5, E_B0 = 821, E_STEP = 74.4, E_PEAK = 140;
  const eLine: any = { pam: "#f39220", syn: "#2e8b2e", non: "#2e8b2e" };
  const eFill: any = { pam: "rgba(247,148,29,0.35)", syn: "rgba(56,142,60,0.6)", non: "rgba(56,142,60,0.12)" };
  eRows.forEach((name, k) => {
    const base = E_B0 + k * E_STEP;
    const gi = add({ left: E_LEFT, top: base - E_PEAK, width: E_W, height: E_PEAK }, hidden(0, 1), hidden(0, 100));
    series.push({
      type: "line", xAxisIndex: gi, yAxisIndex: gi, symbol: "none", smooth: 0.2, silent: true, z: 2 + k * 0.01,
      data: eU.map((u, i) => [u, eCurves[k][i]]),
      lineStyle: { color: eLine[eClass[k]], width: 1.8 },
      areaStyle: { color: eFill[eClass[k]] },
    });
    T(35, base - 21, name, { size: 18, align: "left" });
    T(341, k === 0 ? 658 : base - E_STEP + 17, ePct[k], { size: 18, weight: "bold", color: "#9b9b9b", align: "right" });
  });
  R(E_LEFT, 638, E_W, 1003, "none", "#bdbdbd", 1.5);
  T(220, 622, "CD4", { size: 18 });
  T(137, 1663, "TNFα", { size: 19 });
  L(191, 1661, 336, 1661, "#111", 1.8);
  G.push({ type: "polygon", silent: true, z: 100, shape: { points: [[333, 1655], [347, 1661], [333, 1667]] }, style: { fill: "#111" } });
  const eLegend = [["PAM only", "pam", 1583], ["Synonymous", "syn", 1607], ["Nonsynonymous", "non", 1632]];
  eLegend.forEach(([t, c, y]: any) => {
    R(375, y - 6, 21, 12, CLASS_FILL[c], "#333", 1);
    T(402, y, t, { size: 19, align: "left" });
  });

  /* ================= panel f ================= */
  const fLefts = [482.9, 688.5, 894.6, 1151.3, 1351.3, 1555.4];
  const fWidths = [194.3, 194.8, 194.7, 189.7, 192.9, 193.3];
  const fTops = [645, 961.7];
  const fHeights = [249, 250];
  [fCD4Sets, fCD8Sets].forEach((sets, r) => {
    sets.forEach((d, c) => {
      const cyto = c < 3;
      const gi = add(
        { left: fLefts[c], top: fTops[r], width: fWidths[c], height: fHeights[r], show: true, borderColor: "#c4c4c4", borderWidth: 1.5 },
        {
          type: "value", min: -0.34, max: 13.34, splitLine: { show: false },
          axisLine: { show: true, onZero: false, lineStyle: { color: "#222", width: 1.5 } }, axisTick: { show: false },
          axisLabel: {
            customValues: fPos, rotate: 90, fontSize: 18, fontFamily: SANS, color: INK, margin: 4, showMaxLabel: true, showMinLabel: true, hideOverlap: false,
            formatter: (v: number) => fMut[fPos.findIndex((p) => Math.abs(p - v) < 1e-6)] || "",
          },
        },
        {
          type: "value", min: 0, max: cyto ? 68.2 : 102.9, splitLine: { show: false },
          axisLine: { show: true, onZero: false, lineStyle: { color: "#222", width: 1.5 } },
          axisTick: { show: true, customValues: cyto ? fCytoTicks : fActTicks, length: 3, lineStyle: { color: "#222" } },
          axisLabel: { show: c === 0 || c === 3, customValues: cyto ? fCytoLabels : fActLabels, fontSize: 21, fontFamily: NARROW, color: INK, margin: 5 },
        }
      );
      series.push({
        type: "bar", xAxisIndex: gi, yAxisIndex: gi, barWidth: 9.5, silent: true, z: 2,
        data: fPos.map((p, i) => ({ value: [p, d.bar[i]], itemStyle: { color: CLASS_FILL[fClass[i]], borderColor: fClass[i] === "pam" ? "#e08a1a" : "#222", borderWidth: 1 } })),
        markLine: { silent: true, symbol: "none", label: { show: false }, lineStyle: { color: "#8a8a8a", width: 1.5, type: [5, 3] }, data: [{ yAxis: d.bar[0] }] },
      });
      series.push({ type: "scatter", xAxisIndex: gi, yAxisIndex: gi, symbolSize: 5, silent: true, z: 4, itemStyle: { color: "#1f2a8f" }, data: fPos.map((p, i) => [p - 0.15, d.d1[i]]) });
      series.push({ type: "scatter", xAxisIndex: gi, yAxisIndex: gi, symbolSize: 5, silent: true, z: 4, itemStyle: { color: "#d9531e" }, data: fPos.map((p, i) => [p + 0.15, d.d2[i]]) });
      if (r === 0) T(fLefts[c] + fWidths[c] / 2, 632, fMarkers[c], { size: 21, font: NARROW });
    });
  });
  T(438.5, 783, "CD4", { size: 20, rot: Math.PI / 2 });
  T(438.5, 1098, "CD8", { size: 20, rot: Math.PI / 2 });
  T(418, 936, "Percent cytokine positive", { size: 20, rot: Math.PI / 2 });
  Cc(875, 606, 3.4, "#1f2a8f");
  Cc(886, 606, 3.4, "#d9531e");
  T(898, 606, "Donor", { size: 21, font: NARROW, align: "left" });
  const fLegend = [["PAM only", "pam", 968, 995], ["Synonymous", "syn", 1093, 1120], ["Nonsynonymous", "non", 1234, 1261]];
  fLegend.forEach(([t, c, bx, tx]: any) => {
    R(bx, 599, 23, 13, CLASS_FILL[c], "#222", 1.2);
    T(tx, 606, t, { size: 21, font: NARROW, align: "left" });
  });

  /* ================= panel g ================= */
  const G_FRAME_L = 706.5, G_FRAME_W = 780.3, G_TOP = 1310, G_H = 316, G_PAD = 30.2;
  const gNameAt = (i: number) => {
    const k = gSlot.indexOf(i);
    return k >= 0 ? gMut[k] : "";
  };
  R(G_FRAME_L, G_TOP, G_FRAME_W, G_H, "none", "#9a9a9a", 1, 0);
  L(G_FRAME_L, G_TOP + G_H, G_FRAME_L + G_FRAME_W, G_TOP + G_H, "#8a8a8a", 2);
  const gi = add(
    { left: G_FRAME_L + G_PAD, top: G_TOP, width: G_FRAME_W - 2 * G_PAD, height: G_H },
    {
      type: "category", data: Array.from({ length: gSlotCount }, (_v, i) => String(i)),
      axisLine: { show: false, onZero: false },
      axisTick: { show: true, alignWithLabel: true, interval: (i: number) => gNameAt(i) !== "", length: 4, lineStyle: { color: "#555" } },
      axisLabel: { interval: 0, rotate: 90, fontSize: 15, fontFamily: DEJAVU, color: INK, margin: 8, formatter: (_v: string, i: number) => gNameAt(i) },
    },
    {
      type: "value", min: 0, max: 111.5, offset: G_PAD, splitLine: { show: false },
      axisLine: { show: false, onZero: false },
      axisTick: { show: true, customValues: gYTicks, length: 4, lineStyle: { color: "#555" } },
      axisLabel: { customValues: gYTicks, fontSize: 18, fontFamily: NARROW, color: INK, margin: 5 },
    }
  );
  const gSeries = [["Knockin", gKnockin, "#1c9c3c"], ["Wild Type", gWildType, "#b3b3b3"], ["Indel", gIndel, "#d3d3d3"], ["Other", gOther, "#e8e8e8"]];
  gSeries.forEach(([name, vals, color]: any) => {
    const data: any[] = Array.from({ length: gSlotCount }, () => "-");
    gSlot.forEach((s, i) => { data[s] = vals[i]; });
    series.push({
      type: "bar", name, stack: "alleles", xAxisIndex: gi, yAxisIndex: gi, barWidth: 36, silent: true,
      itemStyle: { color, borderColor: "#444", borderWidth: 1 }, data,
    });
  });
  T(1117, 1301, "Knockin Editing", { size: 19, font: NARROW });
  T(661, 1478, "Percent alleles", { size: 15, font: DEJAVU, rot: Math.PI / 2 });

  const legend = [
    {
      data: bBases, orient: "vertical", left: 1384, top: 45, itemWidth: 8, itemHeight: 2.5, itemGap: 3, icon: "rect", selectedMode: false,
      textStyle: { fontFamily: MONO, fontSize: 16, color: "#222", padding: [0, 0, 0, -2] },
    },
    {
      data: ["Stim", "Unstim"], orient: "vertical", left: 879, top: 421, itemWidth: 13, itemHeight: 13, itemGap: 6, icon: "rect", selectedMode: false,
      textStyle: { fontFamily: NARROW, fontSize: 20, color: INK },
    },
    {
      data: ["Knockin", "Wild Type", "Indel", "Other"], orient: "vertical", left: 1502, top: 1322, itemWidth: 21, itemHeight: 11, itemGap: 4, icon: "rect", selectedMode: false,
      backgroundColor: "#ffffff", borderColor: "#cccccc", borderWidth: 1, borderRadius: 2, padding: [5, 8, 5, 5],
      textStyle: { fontFamily: NARROW, fontSize: 12, color: "#222" },
    },
  ];

  return {
    animation: false,
    backgroundColor: "#ffffff",
    textStyle: { fontFamily: SANS },
    grid, xAxis, yAxis, series, legend,
    graphic: { elements: G },
  };
}

export default function App() {
  const ref = useRef<HTMLDivElement>(null);
  useEffect(() => {
    if (!ref.current) return;
    const chart = echarts.init(ref.current, null, { renderer: "svg" });
    chart.setOption(buildOption() as any);
    return () => chart.dispose();
  }, []);
  return <div ref={ref} style={{ position: "absolute", left: 0, top: 0, width: 1800, height: 1686, background: "#ffffff" }} />;
}
